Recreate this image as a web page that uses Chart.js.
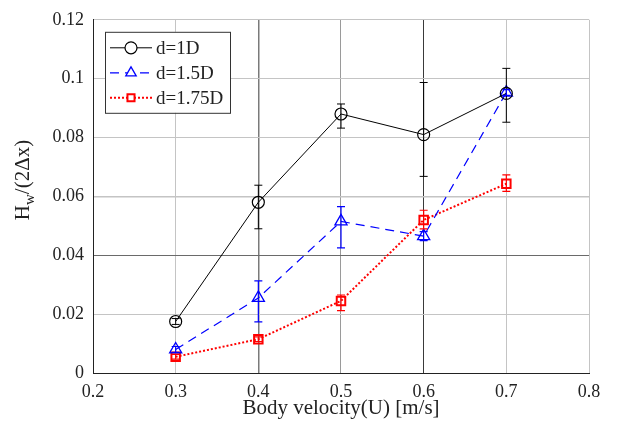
<!DOCTYPE html>
<html>
<head>
<meta charset="utf-8">
<script src="https://cdn.jsdelivr.net/npm/chart.js@4"></script>
<style>
  html, body { margin: 0; padding: 0; background: #fff; }
  #wrap { width: 627px; height: 437px; }
</style>
</head>
<body>
<div id="wrap"><canvas id="myChart" width="627" height="437"></canvas></div>
<script>
// data
const velocity = [0.3, 0.4, 0.5, 0.6, 0.7];
const d1 = [0.0175, 0.058, 0.088, 0.081, 0.095];
const d1Neg = [0.001, 0.009, 0.0048, 0.0142, 0.0098];
const d1Pos = [0.001, 0.0058, 0.0034, 0.0177, 0.0085];
const d15 = [0.008, 0.0255, 0.0515, 0.0465, 0.0953];
const d15Neg = [0.001, 0.0081, 0.009, 0.0015, 0.001];
const d15Pos = [0.001, 0.0058, 0.005, 0.0015, 0.001];
const d175 = [0.0055, 0.0115, 0.0245, 0.052, 0.0643];
const d175Neg = [0.0008, 0.0008, 0.0033, 0.003, 0.0026];
const d175Pos = [0.0008, 0.0008, 0.002, 0.0033, 0.003];
const xTicks = ["0.2", "0.3", "0.4", "0.5", "0.6", "0.7", "0.8"];
const yTicks = ["0", "0.02", "0.04", "0.06", "0.08", "0.1", "0.12"];

const FONT = "Liberation Serif";

function pts(ys) {
    return velocity.map((x, i) => ({ x: x, y: ys[i] }));
}

// MATLAB style error bars
const errorBars = {
    id: "errorBars",
    afterDatasetsDraw(chart) {
        const ctx = chart.ctx;
        const xs = chart.scales.x, ys = chart.scales.y;
        chart.data.datasets.forEach((ds) => {
            ctx.save();
            ctx.strokeStyle = ds.borderColor;
            ctx.lineWidth = ds.errWidth;
            ctx.setLineDash([]);
            ds.data.forEach((p, i) => {
                const px = xs.getPixelForValue(p.x);
                const top = ys.getPixelForValue(p.y + ds.errPos[i]);
                const bot = ys.getPixelForValue(p.y - ds.errNeg[i]);
                ctx.beginPath();
                ctx.moveTo(px, top); ctx.lineTo(px, bot);
                ctx.moveTo(px - 4, top); ctx.lineTo(px + 4, top);
                ctx.moveTo(px - 4, bot); ctx.lineTo(px + 4, bot);
                ctx.stroke();
            });
            ctx.restore();
        });
    },
};

// boxed legend top-left inside the axes
const boxLegend = {
    id: "boxLegend",
    afterDraw(chart) {
        const ctx = chart.ctx;
        const a = chart.chartArea;
        const x0 = a.left + 12, y0 = a.top + 12, w = 125, h = 81;
        ctx.save();
        ctx.fillStyle = "#fff";
        ctx.fillRect(x0, y0, w, h);
        ctx.strokeStyle = "#333";
        ctx.lineWidth = 1;
        ctx.strokeRect(x0 + 0.5, y0 + 0.5, w, h);
        chart.data.datasets.forEach((ds, i) => {
            const cy = y0 + 16 + i * 25;
            ctx.strokeStyle = ds.borderColor;
            ctx.lineWidth = ds.borderWidth;
            ctx.setLineDash(ds.borderDash || []);
            ctx.beginPath();
            ctx.moveTo(x0 + 5, cy); ctx.lineTo(x0 + 47, cy);
            ctx.stroke();
            ctx.setLineDash([]);
            ctx.fillStyle = "#fff";
            ctx.lineWidth = ds.pointBorderWidth;
            Chart.helpers.drawPoint(ctx, {
                pointStyle: ds.pointStyle,
                radius: ds.pointStyle === "rect" ? 5 : 6,
                borderWidth: ds.pointBorderWidth,
                rotation: 0,
            }, x0 + 26, cy);
            ctx.fillStyle = "#222";
            ctx.font = "19px '" + FONT + "'";
            ctx.textBaseline = "middle";
            ctx.fillText(ds.label, x0 + 51, cy + 1);
        });
        ctx.restore();
    },
};

// y title with subscript: H_w/(2Δx)
const yTitle = {
    id: "yTitle",
    afterDraw(chart) {
        const ctx = chart.ctx;
        ctx.save();
        ctx.translate(29, 180);
        ctx.rotate(-Math.PI / 2);
        ctx.fillStyle = "#222";
        ctx.textBaseline = "alphabetic";
        const big = "21px '" + FONT + "'", small = "15px '" + FONT + "'";
        ctx.font = big;
        const wH = ctx.measureText("H").width;
        ctx.font = small;
        const wW = ctx.measureText("w").width;
        ctx.font = big;
        const wRest = ctx.measureText("/(2\u0394x)").width;
        let x = -(wH + wW + wRest) / 2;
        ctx.fillText("H", x, 0);
        x += wH;
        ctx.font = small;
        ctx.fillText("w", x, 5);
        x += wW;
        ctx.font = big;
        ctx.fillText("/(2\u0394x)", x, 0);
        ctx.restore();
    },
};

const xGridColor = (c) => {
    const v = Math.round(c.tick.value * 10);
    if (v === 4) return "#7a7a7a";
    if (v === 5) return "#9a9a9a";
    if (v === 6) return "#3a3a3a";
    return "#c4c4c4";
};
const yGridColor = (c) => {
    const v = Math.round(c.tick.value * 100);
    if (v === 4) return "#6a6a6a";
    return "#c4c4c4";
};

const ctx = document.getElementById("myChart").getContext("2d");
new Chart(ctx, {
    type: "line",
    data: {
        datasets: [
            {
                label: "d=1D",
                data: pts(d1),
                errNeg: d1Neg, errPos: d1Pos, errWidth: 1,
                borderColor: "#000",
                borderWidth: 1,
                pointStyle: "circle",
                pointRadius: 6,
                pointBorderWidth: 1.2,
                pointBackgroundColor: "rgba(0,0,0,0)",
                pointBorderColor: "#000",
            },
            {
                label: "d=1.5D",
                data: pts(d15),
                errNeg: d15Neg, errPos: d15Pos, errWidth: 1.2,
                borderColor: "#0000ff",
                borderWidth: 1.2,
                borderDash: [9, 6],
                pointStyle: "triangle",
                pointRadius: 7,
                pointBorderWidth: 1.3,
                pointBackgroundColor: "rgba(0,0,0,0)",
                pointBorderColor: "#0000ff",
            },
            {
                label: "d=1.75D",
                data: pts(d175),
                errNeg: d175Neg, errPos: d175Pos, errWidth: 1.2,
                borderColor: "#ff0000",
                borderWidth: 2,
                borderDash: [2, 2],
                pointStyle: "rect",
                pointRadius: 6,
                pointBorderWidth: 2,
                pointBackgroundColor: "rgba(0,0,0,0)",
                pointBorderColor: "#ff0000",
            },
        ],
    },
    options: {
        responsive: false,
        animation: false,
        layout: { padding: { top: 16, right: 38, left: 0, bottom: 0 } },
        scales: {
            x: {
                type: "linear",
                min: 0.2,
                max: 0.8,
                ticks: {
                    stepSize: 0.1,
                    padding: 8,
                    color: "#222",
                    font: { family: FONT, size: 18 },
                    callback: (v, i) => xTicks[i],
                },
                grid: { color: xGridColor, lineWidth: (c) => (Math.round(c.tick.value * 10) === 4 ? 1.5 : 1), drawTicks: false },
                border: { display: true, color: "#222", width: 1 },
                title: {
                    display: true,
                    text: "Body velocity(U) [m/s]",
                    color: "#222",
                    font: { family: FONT, size: 21 },
                    padding: { top: 0, bottom: 16 },
                },
                afterFit: (s) => { s.height = 64; },
            },
            y: {
                min: 0,
                max: 0.12,
                ticks: {
                    stepSize: 0.02,
                    padding: 9,
                    color: "#222",
                    font: { family: FONT, size: 18 },
                    callback: (v, i) => yTicks[i],
                },
                grid: { color: yGridColor, lineWidth: (c) => (Math.round(c.tick.value * 100) === 6 ? 1.5 : 1), drawTicks: false },
                border: { display: true, color: "#222", width: 1 },
                afterFit: (s) => { s.width = 93; },
            },
        },
        plugins: {
            legend: { display: false },
            tooltip: { enabled: false },
        },
    },
    plugins: [errorBars, boxLegend, yTitle],
});
</script>
</body>
</html>
